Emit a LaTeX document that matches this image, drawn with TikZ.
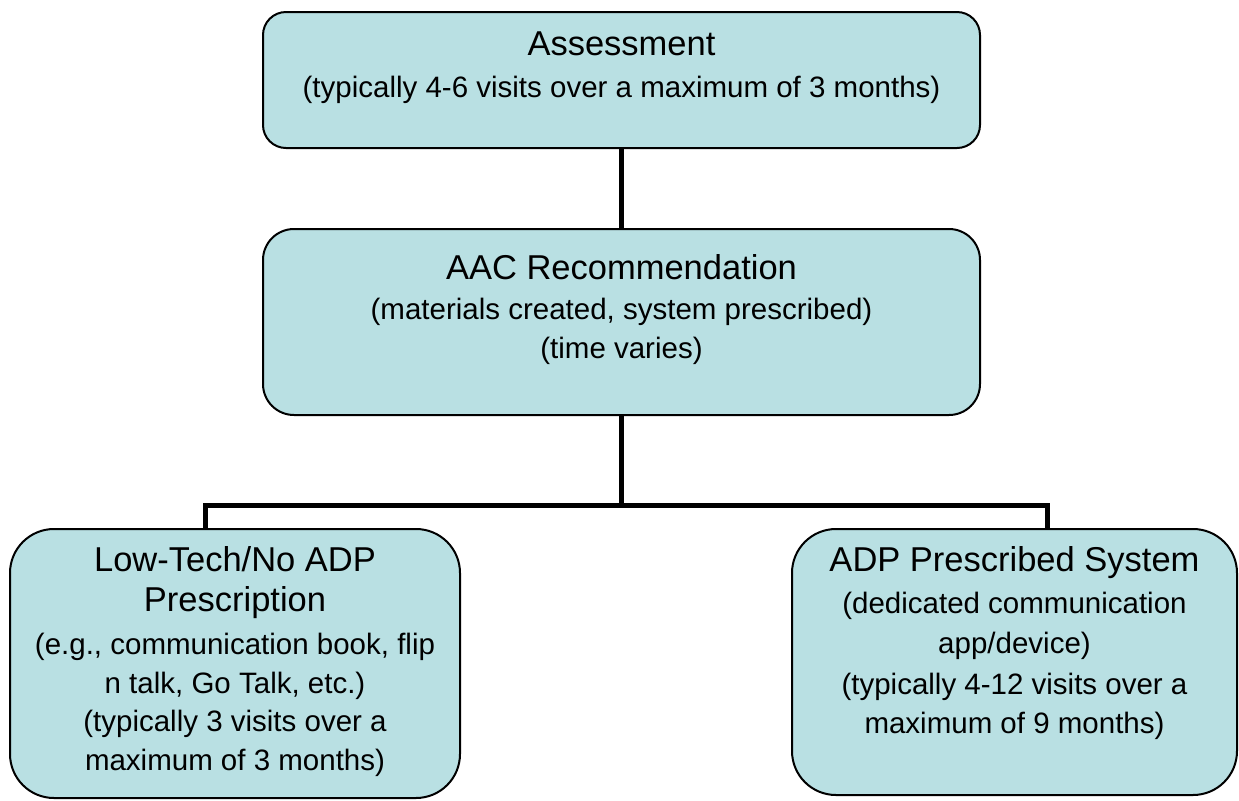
\documentclass[tikz,border=0pt]{standalone}
\usepackage{fontspec}
\setmainfont{Liberation Sans}
\usetikzlibrary{
  positioning, % for relative positioning of the boxes and texts
}
\definecolor{stagefill}{RGB}{185,224,227}
\newcommand{\headfont}{\fontsize{17.25}{20}\selectfont}
\tikzset{
  stage/.style={ % style for each stage box
    rectangle,draw,line width=1pt, % drawn as a rectangle with a thin border
    fill=stagefill, % light blue fill
    inner sep=0pt, % no padding, the size is given by minimum width/height
  },
  info/.style={ % style for the text inside a stage
    align=center,
    inner sep=0pt,
    font=\fontsize{14.75}{19.4}\selectfont,
  },
  conn/.style={ % style for the connections
    line width=2.5pt, % heavy black line
  },
}

\begin{document}
\begin{tikzpicture}[x=0.5pt,y=-0.5pt]
	\useasboundingbox (0,0) rectangle (1239,800);

	\node[stage,rounded corners=11.5pt,minimum width=358.5pt,minimum height=68pt] (assess) at (621.5,80) {};
	\node[stage,rounded corners=15.5pt,minimum width=358.5pt,minimum height=93pt,below=39.5pt of assess] (aac) {};
	\node[stage,rounded corners=22pt,minimum width=225pt,minimum height=134.5pt] (lowtech) at (235,663.5) {};
	\node[stage,rounded corners=22pt,minimum width=222.5pt,minimum height=133pt] (adp) at (1014.5,662) {};

	\node[info,below=10pt of assess.north] (assesstxt) {{\headfont Assessment}\\[1.6pt]
		(typically 4-6 visits over a maximum of 3 months)};
	\node[info,below=13pt of aac.north] (aactxt) {{\headfont AAC Recommendation}\\[0.6pt]
		(materials created, system prescribed)\\(time varies)};
	\node[info,below=9pt of lowtech.north] (lowtechtxt) {{\headfont Low-Tech/No ADP}\\[0.6pt]
		{\headfont Prescription}\\[2pt]
		(e.g., communication book, flip\\ n talk, Go Talk, etc.)\\
		(typically 3 visits over a\\maximum of 3 months)};
	\node[info,below=9pt of adp.north] (adptxt) {{\headfont ADP Prescribed System}\\[1.4pt]
		(dedicated communication\\[0.8pt]app/device)\\[1pt]
		(typically 4-12 visits over a\\[0.4pt]maximum of 9 months)};

	\coordinate (split) at (621.5,505);

	\draw[conn] (assess) -- (aac);
	\draw[conn] (aac) -- (split);
	\draw[conn] ([xshift=-15pt]lowtech.north) |- (split) -| ([xshift=16.25pt]adp.north);

\end{tikzpicture}
\end{document}
